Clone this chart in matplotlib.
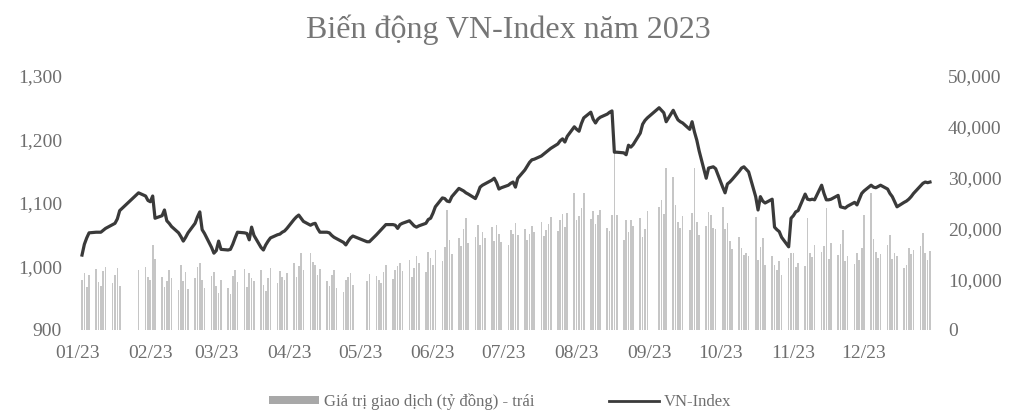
import matplotlib
matplotlib.use("Agg")
import matplotlib.pyplot as plt
import matplotlib.dates as mdates
from matplotlib.patches import Patch
from matplotlib.lines import Line2D
import numpy as np
import pandas as pd

title = "Biến động VN-Index năm 2023"
bar_label = "Giá trị giao dịch (tỷ đồng) - trái"
line_label = "VN-Index"

# market holidays (HOSE, 2023) removed from the weekday calendar
holidays = ["2023-01-02", "2023-01-20", "2023-01-23", "2023-01-24", "2023-01-25",
            "2023-01-26", "2023-05-01", "2023-05-02", "2023-05-03",
            "2023-09-01", "2023-09-04"]

# VN-Index close, one value per trading day, month by month
vnindex = [
    # Jan
    1018, 1035, 1045, 1053, 1054, 1054, 1054, 1057, 1060, 1066, 1068, 1075, 1088,
    1116, 1111, 1104,
    # Feb
    1102, 1111, 1076, 1080, 1089, 1072, 1068, 1063, 1053, 1047, 1040, 1046, 1053,
    1068, 1078, 1086, 1058, 1052, 1030, 1021,
    # Mar
    1025, 1040, 1027, 1026, 1027, 1035, 1045, 1054, 1053, 1052, 1042, 1062, 1049,
    1030, 1026, 1034, 1040, 1045, 1050, 1051, 1054, 1056, 1060,
    # Apr
    1074, 1078, 1081, 1076, 1071, 1065, 1067, 1068, 1060, 1054, 1054, 1053, 1049,
    1046, 1044, 1038, 1034, 1040, 1045, 1048,
    # May
    1039, 1039, 1050, 1054, 1058, 1062, 1066, 1066, 1065, 1060, 1066, 1068, 1072,
    1068, 1064, 1062, 1064, 1068, 1074, 1076,
    # Jun
    1084, 1094, 1108, 1107, 1103, 1102, 1110, 1123, 1121, 1119, 1116, 1114, 1107,
    1115, 1125, 1128, 1130, 1136, 1139, 1132, 1122, 1124,
    # Jul
    1128, 1131, 1133, 1125, 1139, 1152, 1158, 1164, 1168, 1169, 1174, 1177, 1180,
    1183, 1186, 1193, 1198, 1201, 1196, 1205, 1220,
    # Aug
    1216, 1213, 1225, 1234, 1243, 1232, 1226, 1232, 1235, 1240, 1243, 1245, 1180,
    1180, 1179, 1176, 1191, 1188, 1192, 1210, 1224, 1230, 1234,
    # Sep
    1250, 1246, 1242, 1228, 1246, 1238, 1231, 1228, 1226, 1216, 1228, 1212, 1199,
    1182, 1139, 1155, 1156, 1157, 1154,
    # Oct
    1125, 1116, 1130, 1133, 1137, 1150, 1155, 1157, 1153, 1149, 1110, 1089, 1110,
    1103, 1100, 1106, 1062, 1058, 1055, 1046, 1031, 1076,
    # Nov
    1080, 1086, 1088, 1114, 1106, 1105, 1106, 1105, 1128, 1115, 1105, 1105, 1106,
    1112, 1094, 1093, 1092, 1095, 1101, 1097, 1106, 1115,
    # Dec
    1119, 1128, 1125, 1124, 1126, 1128, 1122, 1115, 1110, 1102, 1094, 1101, 1103,
    1106, 1110, 1115, 1127, 1131, 1133, 1132, 1133,
]

# trading value (tỷ đồng), one value per trading day
trading_value = [
    # Jan
    9800, 11200, 8400, 10900, 12100, 9500, 8700, 11600, 12400, 9200, 10800, 12200,
    8600, 11800, 12500, 10400,
    # Feb
    9900, 16700, 13900, 10500, 8400, 9700, 11800, 10200, 7800, 12800, 9600, 11400,
    8100, 10200, 12400, 13100, 9800, 8300, 10600, 11500,
    # Mar
    8700, 7300, 9900, 8200, 7100, 10600, 11900, 9400, 12100, 8500, 11300, 10200,
    9600, 11800, 8800, 7600, 10300, 12300, 9200, 11700, 10400, 9800, 11200,
    # Apr
    13100, 10400, 12600, 15100, 11800, 15100, 13400, 12800, 10900, 12100, 9600,
    8700, 10800, 11900, 8200, 7400, 9800, 10500, 11200, 8900,
    # May
    9600, 11100, 10600, 9800, 9200, 11400, 12800, 10100, 11800, 12600, 13200,
    11700, 13800, 10400, 12200, 14600, 13100, 11400, 15300, 14200,
    # Jun
    12800, 15700, 13600, 16300, 23600, 17700, 14900, 18200, 16500, 19800, 22000,
    17200, 18400, 20700, 16700, 19200, 18100, 20300, 17600, 20700, 18900, 17400,
    # Jul
    16800, 19600, 18900, 21000, 18700, 19900, 17800, 18900, 20400, 19300, 21200,
    18600, 19700, 20800, 22300, 19400, 21600, 22800, 20300, 23000, 27000,
    # Aug
    21700, 22400, 24100, 27000, 21900, 23400, 20800, 22700, 23600, 20100, 19400,
    22600, 35000, 22600, 17800, 21700, 19200, 21700, 20500, 22100, 18400, 19800,
    23400,
    # Sep
    24200, 25600, 22800, 31900, 30100, 24600, 21300, 20100, 22400, 19600, 23000,
    31900, 21200, 18700, 20400, 23200, 22600, 20100, 19800,
    # Oct
    24200, 19800, 21000, 17600, 15900, 18300, 16200, 14700, 15100, 14500, 22200,
    13800, 16400, 18100, 12800, 14600, 12800, 11900, 13600, 10800, 14200, 15100,
    # Nov
    15100, 12400, 13100, 12600, 22000, 15100, 14300, 16800, 15400, 16500, 24000,
    13900, 17200, 14800, 16900, 19700, 13600, 14500, 12900, 15100, 13700, 16200,
    # Dec
    22600, 27000, 17900, 15400, 14200, 15000, 16800, 18700, 13900, 15100, 14600,
    12300, 12800, 16100, 14900, 15800, 16500, 19000, 15200, 13800, 15600,
]

dates = pd.bdate_range("2023-01-03", "2023-12-29")
dates = dates[~dates.isin(pd.to_datetime(holidays))]
assert len(dates) == len(vnindex) == len(trading_value)

plt.rcParams['font.family'] = ['Liberation Serif', 'DejaVu Serif']

W, H = 1017, 418
left_px, right_px, top_px, bottom_px = 77.3, 934.7, 76, 330
fig = plt.figure(figsize=(W / 100, H / 100), dpi=100)
ax = fig.add_axes([left_px / W, (H - bottom_px) / H,
                   (right_px - left_px) / W, (bottom_px - top_px) / H])
ax2 = ax.twinx()

bar_color = '#c6c6c6'
line_color = '#3a3a3a'
text_color = '#6e6e6e'

ax2.bar(dates, trading_value, width=0.7, color=bar_color, linewidth=0)
ax.plot(dates, vnindex, color=line_color, linewidth=2.3, solid_joinstyle='round')

ax.set_zorder(ax2.get_zorder() + 1)
ax.patch.set_visible(False)

ax.set_xlim(pd.Timestamp("2023-01-01"), pd.Timestamp("2023-12-31"))
ax.set_ylim(900, 1300)
ax2.set_ylim(0, 50000)
left_ticks = [900, 1000, 1100, 1200, 1300]
right_ticks = [0, 10000, 20000, 30000, 40000, 50000]
ax.set_yticks(left_ticks)
ax.set_yticklabels([f"{v:,}" for v in left_ticks])
ax2.set_yticks(right_ticks)
ax2.set_yticklabels([f"{v:,}" for v in right_ticks])

ax.xaxis.set_major_locator(mdates.MonthLocator())
ax.xaxis.set_major_formatter(mdates.DateFormatter('%m/%y'))

for a in (ax, ax2):
    for s in a.spines.values():
        s.set_visible(False)
ax.tick_params(axis='both', length=0, labelsize=14, labelcolor=text_color)
ax.tick_params(axis='y', pad=11)
ax.tick_params(axis='x', pad=11)
ax2.tick_params(axis='y', length=0, labelsize=14, labelcolor=text_color, pad=9.5)

fig.text(508 / W, 1 - 30 / H, title, ha='center', va='center',
         fontsize=23, color='#767676')

handles = [Patch(facecolor='#a8a8a8', edgecolor='none'),
           Line2D([0], [0], color=line_color, linewidth=2.0)]
fig.legend(handles, [bar_label, line_label], loc='center',
           bbox_to_anchor=(500 / W, 1 - 402 / H), ncol=2, frameon=False,
           fontsize=12, handlelength=3.0, handleheight=0.35,
           handletextpad=0.3, columnspacing=4.5, labelcolor=text_color)

fig.savefig('out.png', dpi=100, facecolor='white')
